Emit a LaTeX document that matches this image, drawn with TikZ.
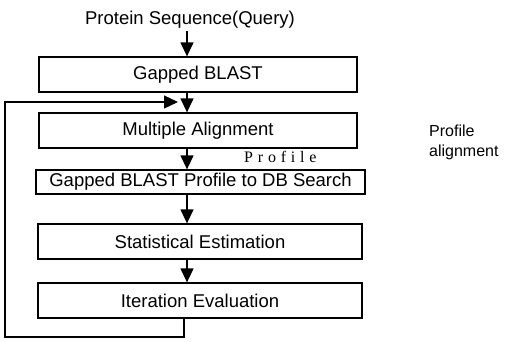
\documentclass[tikz,border=0pt]{standalone}
\usepackage{fontspec}
\setmainfont{Liberation Sans}
\newfontfamily\spacedserif[LetterSpace=30]{Liberation Serif}
\usetikzlibrary{arrows.meta}
\begin{document}
\begin{tikzpicture}[x=1pt,y=-1pt,
  stage/.style={draw, line width=1.3pt, inner sep=0pt,
    font=\fontsize{18.5}{20}\selectfont},
  flow/.style={line width=1.3pt, -{Triangle[length=14pt,width=13pt]}},
  label/.style={inner sep=0pt, font=\fontsize{18.5}{20}\selectfont}]
\useasboundingbox (0,0) rectangle (514,341);

% columns used by the connectors
\coordinate (ax) at (187,0);
\coordinate (lx) at (184,0);
\coordinate (lb) at (5,337);
\coordinate (tip) at (178,102);

% query text
\node[label, anchor=base] (q) at (190,24) {Protein Sequence(Query)};

% processing stages
\node[stage, minimum width=318pt, minimum height=35pt] (b1) at (198,74.5) {Gapped BLAST};
\node[stage, minimum width=318pt, minimum height=35pt] (b2) at (198,130.5) {Multiple Alignment};
\node[stage, minimum width=329pt, minimum height=24pt] (b3) at (200.5,182) {Gapped BLAST Profile to DB Search};
\node[stage, minimum width=324pt, minimum height=35pt] (b4) at (200,241.5) {Statistical Estimation};
\node[stage, minimum width=324pt, minimum height=35pt] (b5) at (200,300.5) {Iteration Evaluation};

% labels
\node[inner sep=0pt, anchor=base west, font=\spacedserif\fontsize{16}{17}\selectfont] (pl) at (244,162) {Profile};
\node[inner sep=0pt, anchor=base west, font=\fontsize{16}{20}\selectfont] (pa1) at (429,136) {Profile};
\node[inner sep=0pt, anchor=base west, font=\fontsize{16}{20}\selectfont] (pa2) at (429,156) {alignment};

% flow arrows
\draw[flow] (q.south -| ax) ++(0,3) -- (b1.north -| ax);
\draw[flow] (b1.south -| ax) -- (b2.north -| ax);
\draw[flow] (b2.south -| ax) -- (b3.north -| ax);
\draw[flow] (b3.south -| ax) -- (b4.north -| ax);
\draw[flow] (b4.south -| ax) -- (b5.north -| ax);

% iteration loop back to the alignment step
\draw[flow] (b5.south -| lx) -- (lx |- lb) -- (lb) -- (lb |- tip) -- (tip);
\end{tikzpicture}
\end{document}
